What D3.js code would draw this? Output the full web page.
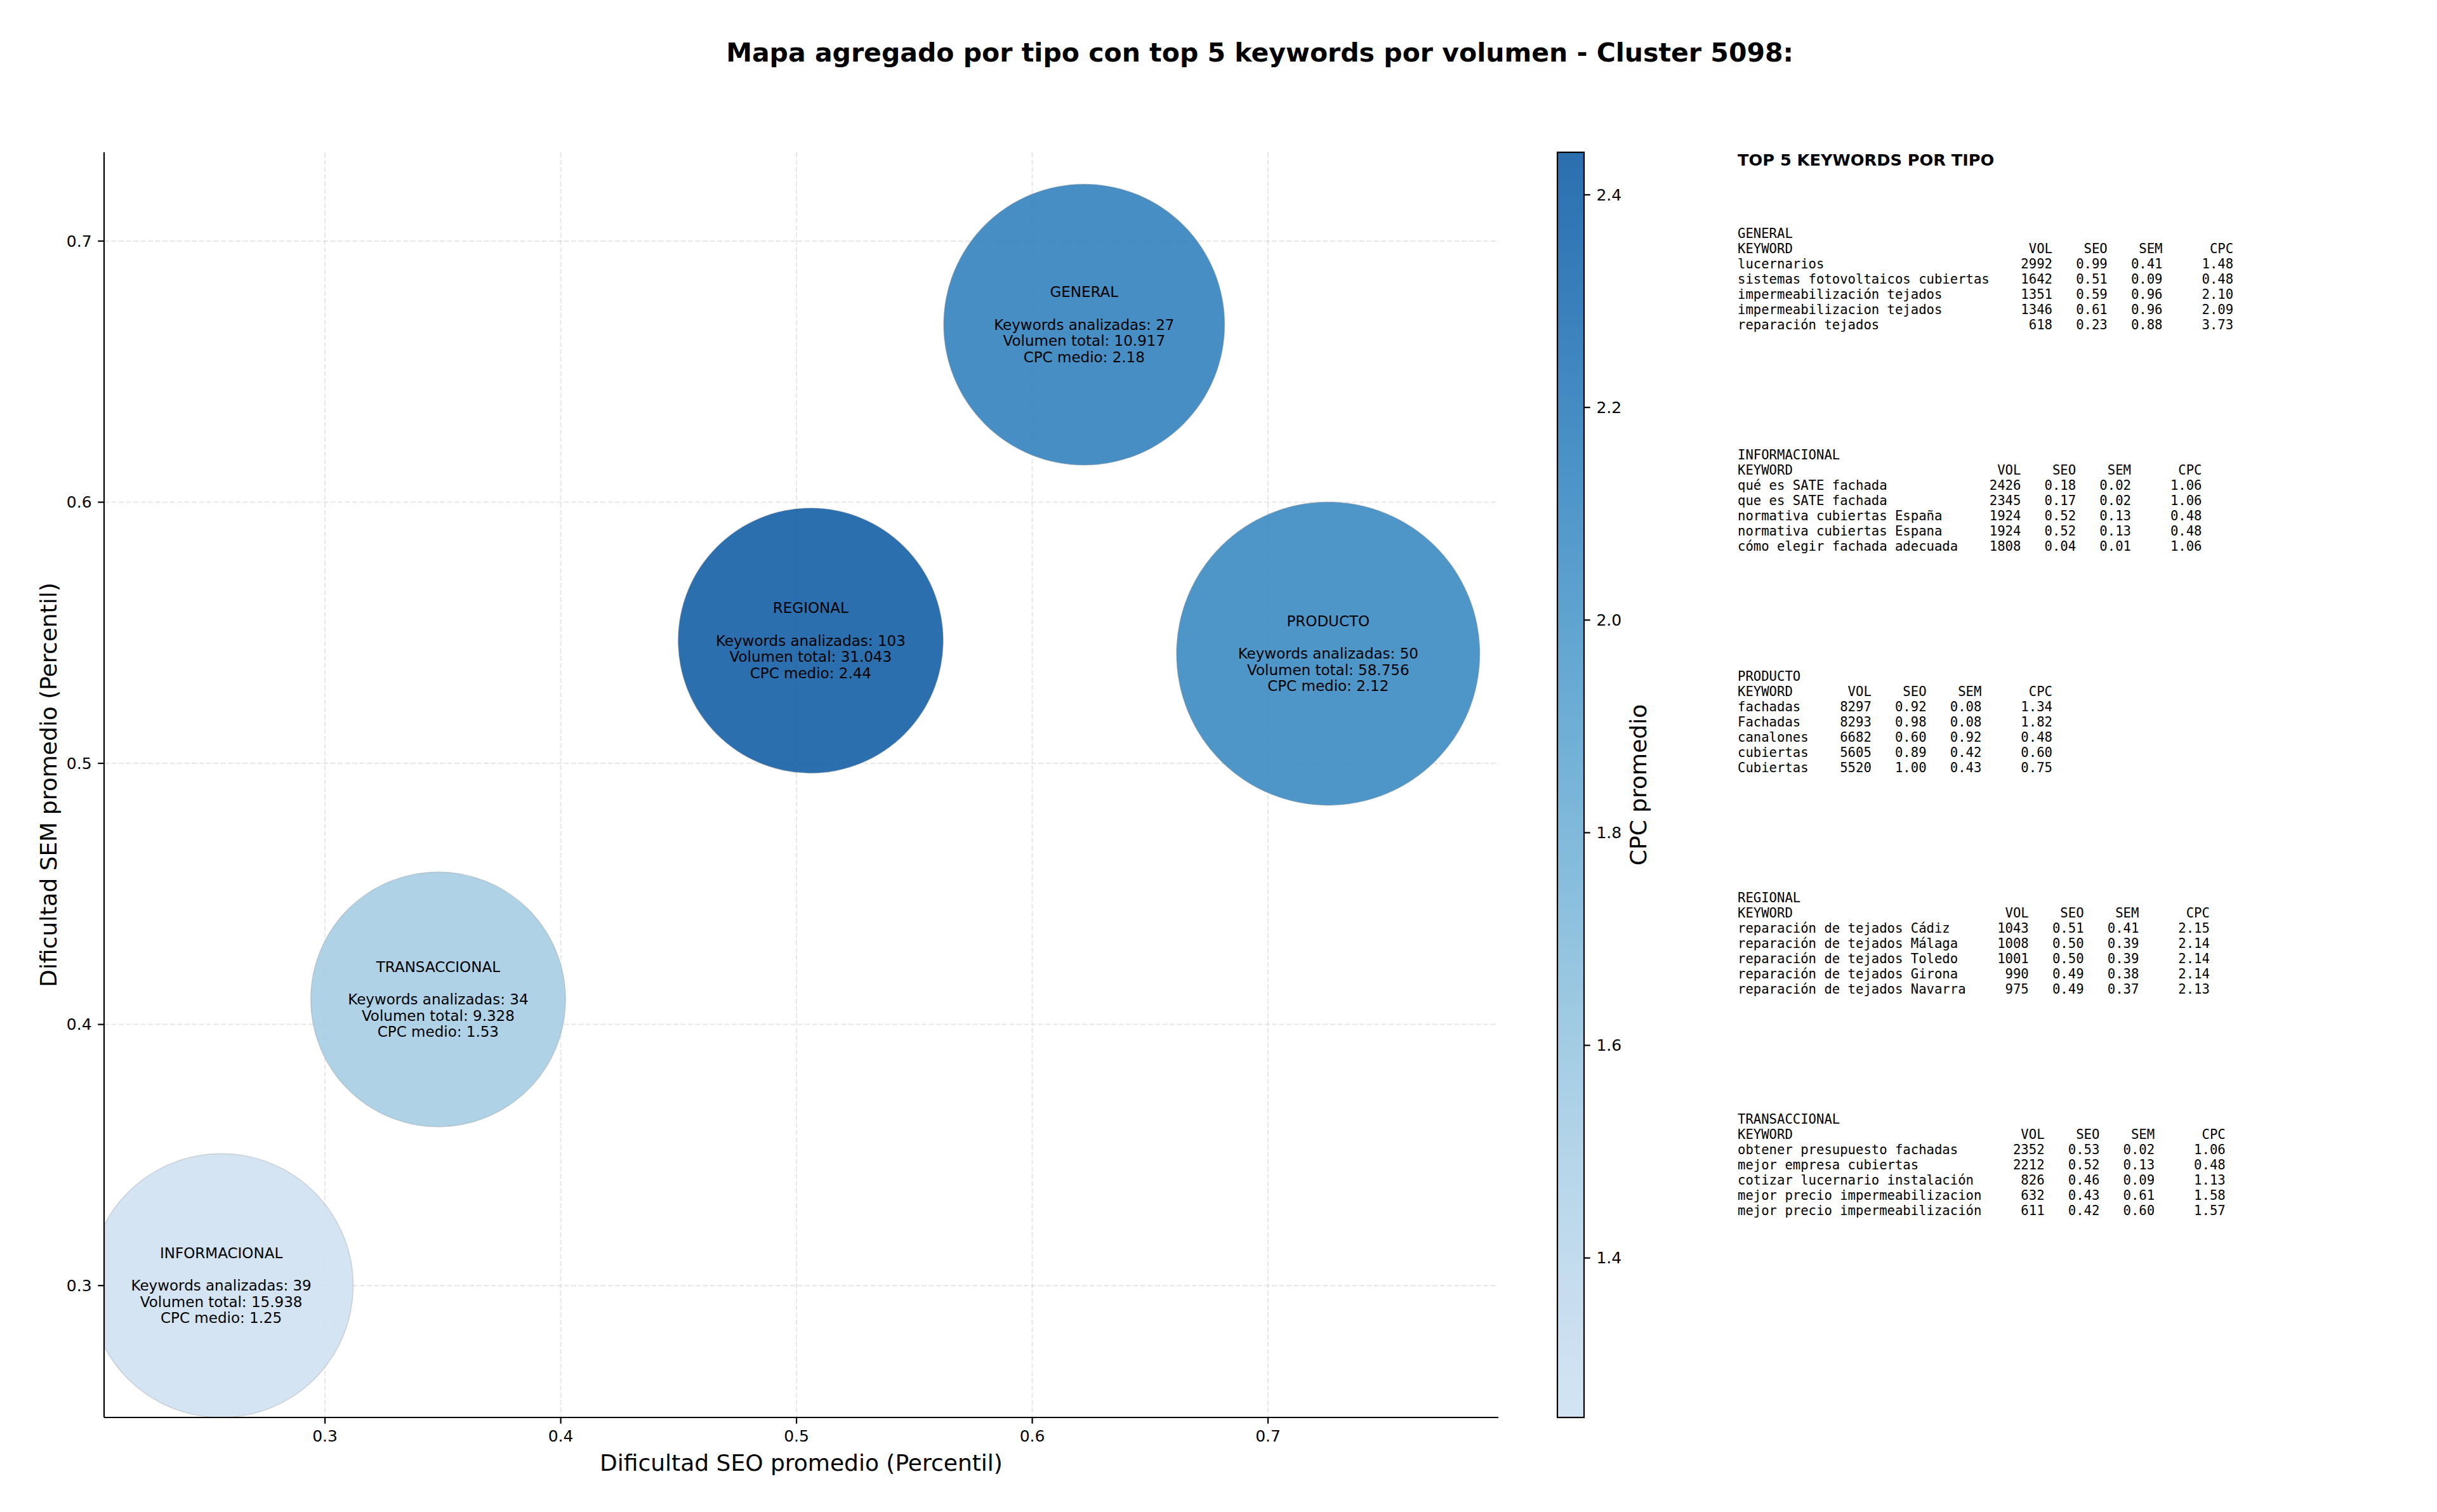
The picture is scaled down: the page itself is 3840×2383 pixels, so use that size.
<!DOCTYPE html>
<html>
<head>
<meta charset="utf-8">
<script src="https://cdn.jsdelivr.net/npm/d3@7"></script>
<style>
  body { margin: 0; background: #fff; }
  svg text { font-family: "DejaVu Sans", sans-serif; }
  .mono { font-family: "DejaVu Sans Mono", monospace; white-space: pre; }
</style>
</head>
<body>
<div id="chart"></div>
<script>
// aggregated values per type
var types = ["GENERAL", "REGIONAL", "PRODUCTO", "TRANSACCIONAL", "INFORMACIONAL"];
var seoAvg = [0.622, 0.506, 0.7255, 0.348, 0.256];
var semAvg = [0.668, 0.547, 0.542, 0.4096, 0.300];
var cpcAvg = [2.18, 2.44, 2.12, 1.53, 1.25];
var kwCount = [27, 103, 50, 34, 39];
var volTotal = [10917, 31043, 58756, 9328, 15938];
var bubbleArea = [25400, 22600, 29600, 20900, 22400];

var xTicks = [0.3, 0.4, 0.5, 0.6, 0.7];
var yTicks = [0.3, 0.4, 0.5, 0.6, 0.7];
var cbTicks = [1.4, 1.6, 1.8, 2.0, 2.2, 2.4];

// top 5 keywords: [keyword, vol, seo, sem, cpc]
var topGeneral = [
  ["lucernarios", 2992, 0.99, 0.41, 1.48],
  ["sistemas fotovoltaicos cubiertas", 1642, 0.51, 0.09, 0.48],
  ["impermeabilización tejados", 1351, 0.59, 0.96, 2.10],
  ["impermeabilizacion tejados", 1346, 0.61, 0.96, 2.09],
  ["reparación tejados", 618, 0.23, 0.88, 3.73]
];
var topInformacional = [
  ["qué es SATE fachada", 2426, 0.18, 0.02, 1.06],
  ["que es SATE fachada", 2345, 0.17, 0.02, 1.06],
  ["normativa cubiertas España", 1924, 0.52, 0.13, 0.48],
  ["normativa cubiertas Espana", 1924, 0.52, 0.13, 0.48],
  ["cómo elegir fachada adecuada", 1808, 0.04, 0.01, 1.06]
];
var topProducto = [
  ["fachadas", 8297, 0.92, 0.08, 1.34],
  ["Fachadas", 8293, 0.98, 0.08, 1.82],
  ["canalones", 6682, 0.60, 0.92, 0.48],
  ["cubiertas", 5605, 0.89, 0.42, 0.60],
  ["Cubiertas", 5520, 1.00, 0.43, 0.75]
];
var topRegional = [
  ["reparación de tejados Cádiz", 1043, 0.51, 0.41, 2.15],
  ["reparación de tejados Málaga", 1008, 0.50, 0.39, 2.14],
  ["reparación de tejados Toledo", 1001, 0.50, 0.39, 2.14],
  ["reparación de tejados Girona", 990, 0.49, 0.38, 2.14],
  ["reparación de tejados Navarra", 975, 0.49, 0.37, 2.13]
];
var topTransaccional = [
  ["obtener presupuesto fachadas", 2352, 0.53, 0.02, 1.06],
  ["mejor empresa cubiertas", 2212, 0.52, 0.13, 0.48],
  ["cotizar lucernario instalación", 826, 0.46, 0.09, 1.13],
  ["mejor precio impermeabilizacion", 632, 0.43, 0.61, 1.58],
  ["mejor precio impermeabilización", 611, 0.42, 0.60, 1.57]
];
var panelGroups = [
  ["GENERAL", topGeneral],
  ["INFORMACIONAL", topInformacional],
  ["PRODUCTO", topProducto],
  ["REGIONAL", topRegional],
  ["TRANSACCIONAL", topTransaccional]
];

var W = 3840, H = 2383;
var plot = { left: 164, right: 2361, top: 240, bottom: 2234 };

var svg = d3.select("#chart").append("svg")
  .attr("width", W).attr("height", H);

var x = d3.scaleLinear().domain([0.2063, 0.7977]).range([plot.left, plot.right]);
var y = d3.scaleLinear().domain([0.2495, 0.734]).range([plot.bottom, plot.top]);
var r = d3.scaleSqrt().domain([0, 30000]).range([0, 1.389 * Math.sqrt(30000)]);

var cpcExtent = d3.extent(cpcAvg);
var color = function (v) {
  var t = (v - cpcExtent[0]) / (cpcExtent[1] - cpcExtent[0]);
  return d3.interpolateBlues(0.2 + 0.62 * t);
};
var fillAlpha = 0.9;

// title
svg.append("text")
  .attr("x", 1985).attr("y", 83).attr("dy", "0.35em")
  .attr("text-anchor", "middle")
  .style("font-size", "41px").style("font-weight", "bold")
  .text("Mapa agregado por tipo con top 5 keywords por volumen - Cluster 5098:");

// grid
var grid = svg.append("g");
grid.selectAll("line.gx").data(xTicks).enter().append("line")
  .attr("x1", d => x(d)).attr("x2", d => x(d))
  .attr("y1", plot.top).attr("y2", plot.bottom)
  .attr("stroke", "#b0b0b0").attr("stroke-opacity", 0.3)
  .attr("stroke-width", 2).attr("stroke-dasharray", "8,3.5");
grid.selectAll("line.gy").data(yTicks).enter().append("line")
  .attr("y1", d => y(d)).attr("y2", d => y(d))
  .attr("x1", plot.left).attr("x2", plot.right)
  .attr("stroke", "#b0b0b0").attr("stroke-opacity", 0.3)
  .attr("stroke-width", 2).attr("stroke-dasharray", "8,3.5");

// clip for bubbles
svg.append("clipPath").attr("id", "plotclip")
  .append("rect")
  .attr("x", plot.left).attr("y", plot.top)
  .attr("width", plot.right - plot.left).attr("height", plot.bottom - plot.top);

var bubbles = svg.append("g").attr("clip-path", "url(#plotclip)");
var idx = d3.range(types.length);
bubbles.selectAll("circle").data(idx).enter().append("circle")
  .attr("cx", i => x(seoAvg[i]))
  .attr("cy", i => y(semAvg[i]))
  .attr("r", i => r(bubbleArea[i]))
  .attr("fill", i => color(cpcAvg[i]))
  .attr("fill-opacity", fillAlpha)
  .attr("stroke", "#888").attr("stroke-opacity", 0.3).attr("stroke-width", 1.5);

// bubble labels
var fmtVol = v => d3.format(",")(v).replace(/,/g, ".");
var lineH = 25.6;
idx.forEach(function (i) {
  var lines = [types[i], "", "Keywords analizadas: " + kwCount[i],
    "Volumen total: " + fmtVol(volTotal[i]), "CPC medio: " + cpcAvg[i].toFixed(2)];
  var g = bubbles.append("text")
    .attr("text-anchor", "middle")
    .style("font-size", "23px").attr("fill", "#000");
  lines.forEach(function (ln, k) {
    g.append("tspan")
      .attr("x", x(seoAvg[i]))
      .attr("y", y(semAvg[i]) + (k - 2) * lineH)
      .attr("dy", "0.35em")
      .text(ln);
  });
});

// axes
var tickLen = 9.7, tickPad = 9.7;
var axes = svg.append("g");
axes.append("line").attr("x1", plot.left).attr("x2", plot.left)
  .attr("y1", plot.top).attr("y2", plot.bottom)
  .attr("stroke", "#000").attr("stroke-width", 2.2);
axes.append("line").attr("x1", plot.left).attr("x2", plot.right)
  .attr("y1", plot.bottom).attr("y2", plot.bottom)
  .attr("stroke", "#000").attr("stroke-width", 2.2);

xTicks.forEach(function (t) {
  axes.append("line").attr("x1", x(t)).attr("x2", x(t))
    .attr("y1", plot.bottom).attr("y2", plot.bottom + tickLen)
    .attr("stroke", "#000").attr("stroke-width", 2.2);
  axes.append("text").attr("x", x(t)).attr("y", plot.bottom + tickLen + tickPad)
    .attr("dy", "0.76em").attr("text-anchor", "middle")
    .style("font-size", "25px").text(d3.format(".1f")(t));
});
yTicks.forEach(function (t) {
  axes.append("line").attr("x1", plot.left - tickLen).attr("x2", plot.left)
    .attr("y1", y(t)).attr("y2", y(t))
    .attr("stroke", "#000").attr("stroke-width", 2.2);
  axes.append("text").attr("x", plot.left - tickLen - tickPad).attr("y", y(t))
    .attr("dy", "0.35em").attr("text-anchor", "end")
    .style("font-size", "25px").text(d3.format(".1f")(t));
});

svg.append("text")
  .attr("x", (plot.left + plot.right) / 2).attr("y", 2305).attr("dy", "0.35em")
  .attr("text-anchor", "middle").style("font-size", "36px")
  .text("Dificultad SEO promedio (Percentil)");
svg.append("text")
  .attr("transform", "translate(76," + ((plot.top + plot.bottom) / 2) + ") rotate(-90)")
  .attr("dy", "0.35em")
  .attr("text-anchor", "middle").style("font-size", "36px")
  .text("Dificultad SEM promedio (Percentil)");

// colorbar
var cb = { left: 2454, right: 2496, top: plot.top, bottom: plot.bottom };
var cbScale = d3.scaleLinear().domain(cpcExtent).range([cb.bottom, cb.top]);
var grad = svg.append("defs").append("linearGradient")
  .attr("id", "cbgrad").attr("x1", 0).attr("x2", 0).attr("y1", 1).attr("y2", 0);
d3.range(0, 1.0001, 0.05).forEach(function (t) {
  grad.append("stop").attr("offset", t)
    .attr("stop-color", color(cpcExtent[0] + t * (cpcExtent[1] - cpcExtent[0])));
});
svg.append("rect")
  .attr("x", cb.left).attr("y", cb.top)
  .attr("width", cb.right - cb.left).attr("height", cb.bottom - cb.top)
  .attr("fill", "url(#cbgrad)").attr("fill-opacity", fillAlpha);
svg.append("rect")
  .attr("x", cb.left).attr("y", cb.top)
  .attr("width", cb.right - cb.left).attr("height", cb.bottom - cb.top)
  .attr("fill", "none").attr("stroke", "#000").attr("stroke-width", 2.2);
cbTicks.forEach(function (t) {
  svg.append("line").attr("x1", cb.right).attr("x2", cb.right + tickLen)
    .attr("y1", cbScale(t)).attr("y2", cbScale(t))
    .attr("stroke", "#000").attr("stroke-width", 2.2);
  svg.append("text").attr("x", cb.right + tickLen + tickPad).attr("y", cbScale(t))
    .attr("dy", "0.35em").style("font-size", "25px").text(d3.format(".1f")(t));
});
svg.append("text")
  .attr("transform", "translate(2581," + ((cb.top + cb.bottom) / 2) + ") rotate(-90)")
  .attr("dy", "0.35em").attr("text-anchor", "middle").style("font-size", "36px")
  .text("CPC promedio");

// keyword panel
var panelX = 2738;
svg.append("text").attr("x", panelX).attr("y", 252).attr("dy", "0.35em")
  .style("font-size", "25.6px").style("font-weight", "bold")
  .text("TOP 5 KEYWORDS POR TIPO");

var monoLine = 24.1;
panelGroups.forEach(function (grp, gi) {
  var rows = grp[1];
  var n = d3.max(rows, d => d[0].length);
  var lines = [grp[0],
    "KEYWORD".padEnd(n) + "VOL".padStart(8) + "SEO".padStart(7) + "SEM".padStart(7) + "CPC".padStart(9)];
  rows.forEach(function (d) {
    lines.push(d[0].padEnd(n) + String(d[1]).padStart(8) + d[2].toFixed(2).padStart(7) +
      d[3].toFixed(2).padStart(7) + d[4].toFixed(2).padStart(9));
  });
  var y0 = 367.4 + gi * 349;
  var t = svg.append("text").attr("class", "mono").style("font-size", "20.6px");
  lines.forEach(function (ln, k) {
    t.append("tspan").attr("x", panelX).attr("y", y0 + k * monoLine)
      .attr("dy", "0.35em").text(ln);
  });
});
</script>
</body>
</html>
